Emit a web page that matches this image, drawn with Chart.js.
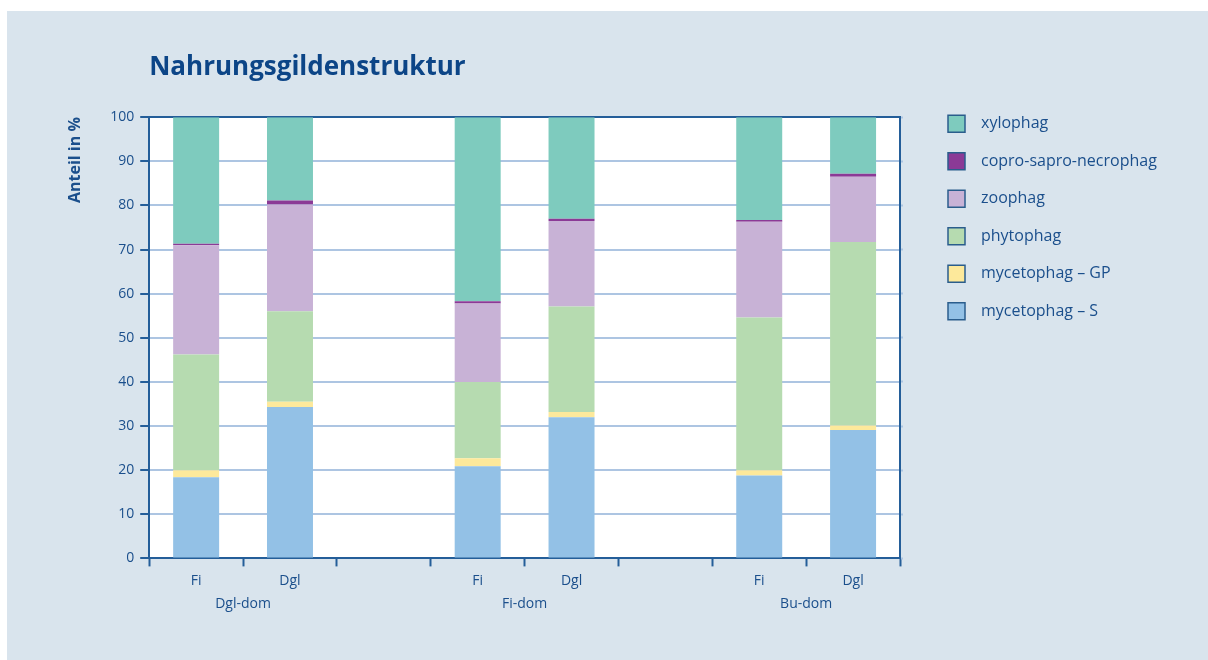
<!DOCTYPE html>
<html lang="de">
<head>
<meta charset="utf-8">
<title>Nahrungsgildenstruktur</title>
<script src="https://cdn.jsdelivr.net/npm/chart.js@4.4.1/dist/chart.umd.min.js"></script>
<style>
    html, body { margin: 0; padding: 0; background: #ffffff; }
    #panel { position: absolute; left: 7px; top: 11px; width: 1201px; height: 649px; background: #d9e4ed; }
    #wrap { position: absolute; left: 0; top: 0; width: 1208px; height: 660px; }
</style>
</head>
<body>
<div id="panel"></div>
<div id="wrap"><canvas id="guild_chart"></canvas></div>
<script>
// site / stand type per column, empty columns separate the three groups
const categories = ['Fi', 'Dgl', '', 'Fi', 'Dgl', '', 'Fi', 'Dgl'];
const groups = ['Dgl-dom', 'Fi-dom', 'Bu-dom'];
const groupBounds = [1, 4, 7];
const yTicks = [0, 10, 20, 30, 40, 50, 60, 70, 80, 90, 100];

// share in % per feeding guild
const mycetophagS = [18.4, 34.3, null, 20.9, 32.0, null, 18.8, 29.1];
const mycetophagGP = [1.6, 1.2, null, 1.8, 1.2, null, 1.2, 1.0];
const phytophag = [26.2, 20.5, null, 17.3, 23.9, null, 34.6, 41.6];
const zoophag = [24.8, 24.2, null, 17.8, 19.4, null, 21.7, 14.8];
const coproSaproNecrophag = [0.3, 0.9, null, 0.5, 0.5, null, 0.4, 0.7];
const xylophag = [28.7, 18.9, null, 41.7, 23.0, null, 23.3, 12.8];

const INK = '#1b4f8c';
const AXIS = '#245e99';
const GRID = '#adc5e2';

Chart.defaults.font.family = "'Open Sans', sans-serif";
Chart.defaults.color = INK;

function guild(label, data, color) {
    return {
        label: label,
        data: data,
        backgroundColor: color,
        borderWidth: 0,
        xAxisID: 'x',
        yAxisID: 'y',
        barPercentage: 0.49,
        categoryPercentage: 1.0
    };
}

// white plot area on the grey-blue panel
const plotBackground = {
    id: 'plotBackground',
    beforeDraw(chart) {
        const { ctx, chartArea: a } = chart;
        ctx.save();
        ctx.fillStyle = '#ffffff';
        ctx.fillRect(a.left, a.top, a.right - a.left, a.bottom - a.top);
        ctx.restore();
    }
};

// legend sits a bit away from the plot, first box level with the 100 line
const legendPlacement = {
    id: 'legendPlacement',
    afterLayout(chart) {
        const lg = chart.legend;
        const pad = lg.options.labels.padding;
        lg.left = chart.chartArea.right + 48 - pad;
        lg.right = chart.width;
        lg.width = lg.right - lg.left;
        const dy = chart.chartArea.top - 2 - pad - lg.top;
        lg.top += dy;
        lg.bottom += dy;
    }
};

new Chart(document.getElementById('guild_chart'), {
    type: 'bar',
    data: {
        labels: categories,
        datasets: [
            guild('mycetophag \u2013 S', mycetophagS, '#93c1e6'),
            guild('mycetophag \u2013 GP', mycetophagGP, '#fde99b'),
            guild('phytophag', phytophag, '#b6dbb0'),
            guild('zoophag', zoophag, '#c8b2d6'),
            guild('copro-sapro-necrophag', coproSaproNecrophag, '#8b3a96'),
            guild('xylophag', xylophag, '#7ecbbe')
        ]
    },
    options: {
        responsive: true,
        maintainAspectRatio: false,
        animation: false,
        layout: {
            padding: { left: 62, right: 155, top: 0, bottom: 48 }
        },
        scales: {
            x: {
                stacked: true,
                z: 1,
                weight: 0,
                grid: {
                    offset: true,
                    drawOnChartArea: false,
                    tickLength: 8,
                    tickColor: AXIS,
                    tickWidth: 2
                },
                border: { color: AXIS, width: 2 },
                ticks: {
                    color: INK,
                    font: { size: 14 },
                    padding: 6,
                    maxRotation: 0,
                    autoSkip: false
                }
            },
            group: {
                type: 'linear',
                axis: 'x',
                position: 'bottom',
                offset: false,
                weight: 1,
                min: 0,
                max: categories.length,
                grid: { display: false, drawTicks: false },
                border: { display: false },
                afterBuildTicks: axis => {
                    axis.ticks = groupBounds.map(v => ({ value: v }));
                },
                ticks: {
                    color: INK,
                    font: { size: 14 },
                    padding: 0,
                    autoSkip: false,
                    callback: (value, index) => groups[index]
                }
            },
            xTop: {
                type: 'linear',
                axis: 'x',
                position: 'top',
                offset: false,
                z: 1,
                min: 0,
                max: 1,
                grid: { display: false, drawTicks: false },
                ticks: { display: false },
                border: { color: AXIS, width: 2 }
            },
            y: {
                stacked: true,
                min: 0,
                max: 100,
                afterBuildTicks: axis => {
                    axis.ticks = yTicks.map(v => ({ value: v }));
                },
                grid: {
                    color: GRID,
                    lineWidth: 2,
                    tickColor: AXIS,
                    tickLength: 9,
                    tickWidth: 2
                },
                border: { color: AXIS, width: 2 },
                ticks: {
                    color: INK,
                    font: { size: 14 },
                    padding: 6
                },
                title: {
                    display: true,
                    text: 'Anteil in %',
                    align: 'end',
                    color: INK,
                    font: { size: 16, weight: 'bold' },
                    padding: { top: 4, bottom: 19 }
                }
            },
            yRight: {
                type: 'linear',
                axis: 'y',
                position: 'right',
                z: 1,
                min: 0,
                max: 100,
                afterBuildTicks: axis => {
                    axis.ticks = yTicks.map(v => ({ value: v }));
                },
                grid: {
                    drawOnChartArea: false,
                    tickLength: 3,
                    tickColor: GRID,
                    tickWidth: 2
                },
                ticks: { display: false },
                border: { color: AXIS, width: 2 }
            }
        },
        plugins: {
            title: {
                display: true,
                text: 'Nahrungsgildenstruktur',
                align: 'start',
                fullSize: false,
                color: '#0c4587',
                font: { size: 26, weight: 'bold' },
                padding: { top: 52, bottom: 34 }
            },
            legend: {
                position: 'right',
                align: 'start',
                fullSize: false,
                reverse: true,
                maxWidth: 150,
                labels: {
                    boxWidth: 17,
                    boxHeight: 17,
                    padding: 20.5,
                    color: INK,
                    font: { size: 16 },
                    generateLabels(chart) {
                        const items = Chart.defaults.plugins.legend.labels.generateLabels(chart);
                        items.forEach(item => {
                            item.text = '\u2002' + item.text;
                            item.strokeStyle = '#2a5d8c';
                            item.lineWidth = 1.5;
                        });
                        return items;
                    }
                }
            },
            tooltip: { enabled: false }
        }
    },
    plugins: [plotBackground, legendPlacement]
});
</script>
</body>
</html>
